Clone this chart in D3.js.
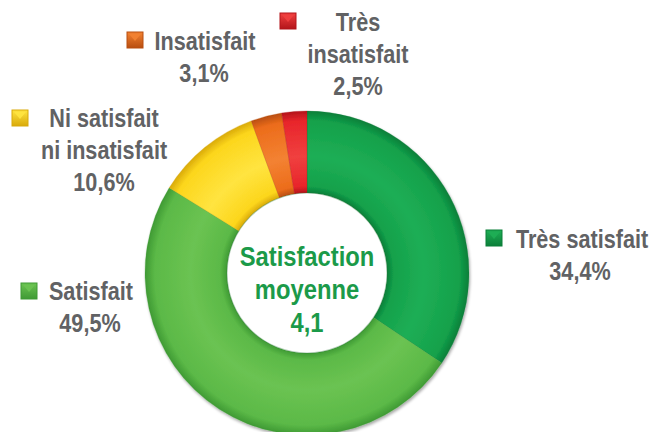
<!DOCTYPE html>
<html>
<head>
<meta charset="utf-8">
<script src="https://cdn.jsdelivr.net/npm/d3@7"></script>
<style>
  html, body { margin: 0; padding: 0; background: #ffffff; }
  svg { display: block; }
</style>
</head>
<body>
<div id="chart"></div>
<script>
// ---- data ----
const categories = ["Très satisfait", "Satisfait", "Ni satisfait ni insatisfait", "Insatisfait", "Très insatisfait"];
const values = [34.4, 49.5, 10.6, 3.1, 2.5];
const valueLabels = ["34,4%", "49,5%", "10,6%", "3,1%", "2,5%"];
const labelLines = [["Très satisfait"], ["Satisfait"], ["Ni satisfait", "ni insatisfait"], ["Insatisfait"], ["Très", "insatisfait"]];
const centerLines = ["Satisfaction", "moyenne", "4,1"];

// ---- styles / layout ----
const colors = ["#13a14b", "#5bb947", "#fcd61c", "#ec6c1b", "#e8252b"];
const darkColors = ["#0b7f39", "#3f9a34", "#d9aa0a", "#b84e10", "#b3151a"];
const lightColors = ["#1fae55", "#6bc352", "#ffe440", "#f38232", "#f0403f"];
const W = 651, H = 432;
const cx = 307, cy = 273, rOuter = 162, rInner = 80;
const fontSize = 26, sx = 0.832, lineGap = 32;
const labelPos = [
  { mx: 486, my: 230, tx: 582, by: 248, px: 580 },
  { mx: 21,  my: 283, tx: 91,  by: 300, px: 90 },
  { mx: 12,  my: 110, tx: 104, by: 127, px: 104 },
  { mx: 127, my: 32,  tx: 205, by: 50,  px: 204 },
  { mx: 280, my: 13,  tx: 358, by: 31,  px: 358 }
];

const svg = d3.select("#chart").append("svg").attr("width", W).attr("height", H);
const defs = svg.append("defs");

colors.forEach((c, i) => {
  const g = defs.append("radialGradient")
    .attr("id", "rg" + i).attr("gradientUnits", "userSpaceOnUse")
    .attr("cx", 0).attr("cy", 0).attr("r", rOuter);
  g.append("stop").attr("offset", rInner / rOuter).attr("stop-color", darkColors[i]);
  g.append("stop").attr("offset", (rInner + 7) / rOuter).attr("stop-color", c);
  g.append("stop").attr("offset", 0.72).attr("stop-color", lightColors[i]);
  g.append("stop").attr("offset", 0.94).attr("stop-color", c);
  g.append("stop").attr("offset", 1).attr("stop-color", darkColors[i]);

  const lg = defs.append("linearGradient").attr("id", "mg" + i)
    .attr("x1", 0).attr("y1", 0).attr("x2", 0).attr("y2", 1);
  lg.append("stop").attr("offset", 0).attr("stop-color", lightColors[i]);
  lg.append("stop").attr("offset", 1).attr("stop-color", darkColors[i]);
});

const filt = defs.append("filter").attr("id", "sh").attr("x", "-10%").attr("y", "-10%").attr("width", "120%").attr("height", "120%");
filt.append("feGaussianBlur").attr("in", "SourceAlpha").attr("stdDeviation", 1.5);
filt.append("feOffset").attr("dx", 1).attr("dy", 1.5).attr("result", "ob");
filt.append("feComponentTransfer").append("feFuncA").attr("type", "linear").attr("slope", 0.35);
const fm = filt.append("feMerge");
fm.append("feMergeNode");
fm.append("feMergeNode").attr("in", "SourceGraphic");

const pie = d3.pie().sort(null).value(d => d).startAngle(0).endAngle(2 * Math.PI);
const arc = d3.arc().innerRadius(rInner).outerRadius(rOuter);
const arcs = pie(values);

const gDonut = svg.append("g").attr("transform", `translate(${cx},${cy})`).attr("filter", "url(#sh)");
gDonut.selectAll("path.slice").data(arcs).enter().append("path")
  .attr("class", "slice")
  .attr("d", arc)
  .attr("fill", (d, i) => `url(#rg${i})`)
  .attr("stroke", (d, i) => darkColors[i])
  .attr("stroke-opacity", 0.35)
  .attr("stroke-width", 0.8);

// inner hole edge
svg.append("circle").attr("cx", cx).attr("cy", cy).attr("r", rInner)
  .attr("fill", "#ffffff").attr("stroke", "#2f7a3c").attr("stroke-opacity", 0.35).attr("stroke-width", 1.2);

// centre text
const gC = svg.append("g");
centerLines.forEach((t, i) => {
  gC.append("text")
    .attr("transform", `translate(${cx},${266 + i * 33}) scale(0.88,1)`)
    .attr("text-anchor", "middle")
    .attr("font-family", "'Liberation Sans', Arial, sans-serif")
    .attr("font-weight", "bold")
    .attr("font-size", 27)
    .attr("fill", "#1b9a49")
    .text(t);
});

// labels
const gL = svg.append("g");
categories.forEach((cat, i) => {
  const p = labelPos[i];
  const m = gL.append("g").attr("transform", `translate(${p.mx},${p.my})`);
  m.append("rect").attr("width", 16).attr("height", 16).attr("fill", `url(#mg${i})`)
    .attr("stroke", darkColors[i]).attr("stroke-width", 1);
  m.append("path").attr("d", "M2,2 L14,2 L8,9 Z").attr("fill", lightColors[i]).attr("opacity", 0.9);

  labelLines[i].forEach((t, j) => {
    gL.append("text")
      .attr("transform", `translate(${p.tx},${p.by + j * lineGap}) scale(${sx},1)`)
      .attr("text-anchor", "middle")
      .attr("font-family", "'Liberation Sans', Arial, sans-serif")
      .attr("font-weight", "bold")
      .attr("font-size", fontSize)
      .attr("fill", "#616264")
      .text(t);
  });
  gL.append("text")
    .attr("transform", `translate(${p.px},${p.by + labelLines[i].length * lineGap}) scale(${sx},1)`)
    .attr("text-anchor", "middle")
    .attr("font-family", "'Liberation Sans', Arial, sans-serif")
    .attr("font-weight", "bold")
    .attr("font-size", fontSize)
    .attr("fill", "#616264")
    .text(valueLabels[i]);
});
</script>
</body>
</html>
